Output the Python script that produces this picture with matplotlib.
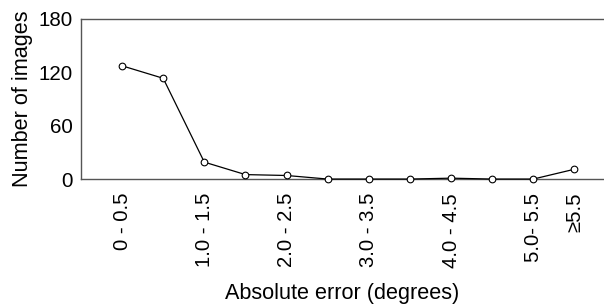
import matplotlib
matplotlib.use("Agg")
import matplotlib.pyplot as plt

categories = ["0 - 0.5", "0.5 - 1.0", "1.0 - 1.5", "1.5 - 2.0", "2.0 - 2.5", "2.5 - 3.0",
              "3.0 - 3.5", "3.5 - 4.0", "4.0 - 4.5", "4.5 - 5.0", "5.0- 5.5", "\u22655.5"]
counts = [127, 113, 19, 5, 4, 0, 0, 0, 1, 0, 0, 11]
shown_labels = ["0 - 0.5", "1.0 - 1.5", "2.0 - 2.5", "3.0 - 3.5", "4.0 - 4.5", "5.0- 5.5", "\u22655.5"]
yticks = [0, 60, 120, 180]

plt.rcParams['font.family'] = ['Liberation Sans', 'DejaVu Sans']

fig = plt.figure(figsize=(6.04, 3.04), dpi=100)
ax = fig.add_axes([0.134, 0.411, 0.866, 0.528])

x = list(range(len(categories)))
ax.plot(x, counts, color='black', linewidth=0.9, marker='o', markersize=4.8,
        markerfacecolor='white', markeredgecolor='black', markeredgewidth=0.8, clip_on=False, zorder=3)

ax.set_xlim(-1, 11.72)
ax.set_ylim(0, 180)
ax.set_yticks(yticks)
ax.set_yticklabels([str(v) for v in yticks], fontsize=14.8)

tick_pos = [categories.index(l) for l in shown_labels]
ax.set_xticks(tick_pos)
ax.set_xticklabels(shown_labels, rotation=90, fontsize=14.6)
ax.tick_params(axis='y', length=0, pad=6)
ax.tick_params(axis='x', length=0, pad=10)

for s in ['top', 'left', 'bottom']:
    ax.spines[s].set_color('#555555')
    ax.spines[s].set_linewidth(1.0)
ax.spines['right'].set_visible(False)

ax.set_ylabel("Number of images", fontsize=15.6)
ax.yaxis.set_label_coords(-0.091, 0.5)
ax.set_xlabel("Absolute error (degrees)", fontsize=15.6)
ax.xaxis.set_label_coords(0.5, -0.65)
ax.xaxis.label.set_verticalalignment('top')

fig.savefig("out.png", dpi=100)
